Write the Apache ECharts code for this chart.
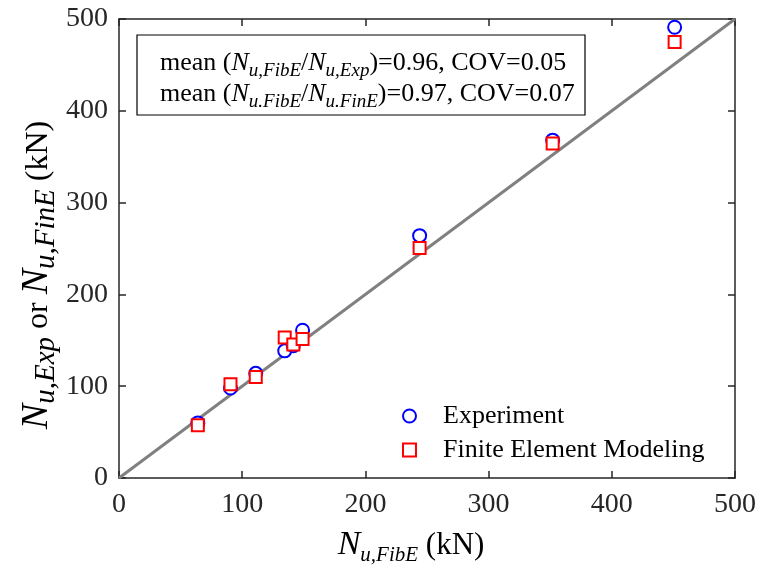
<!DOCTYPE html>
<html>
<head>
<meta charset="utf-8">
<script src="https://cdn.jsdelivr.net/npm/echarts@6/dist/echarts.min.js"></script>
<style>
  html, body { margin: 0; padding: 0; background: #fff; }
  #chart { width: 759px; height: 575px; }
</style>
</head>
<body>
<div id="chart"></div>
<script>
// Ultimate axial load: fibre-element prediction vs. test and FE results (kN)
const fibE       = [64, 90.5, 111, 134.5, 141.5, 149, 244, 352, 451];
const experiment = [60, 98, 114, 138.5, 144, 161, 264, 368, 491];
const finiteElem = [57.5, 102, 110, 153, 145.5, 151.5, 250.5, 364.5, 475];
const equalityLine = [[0, 0], [500, 500]];
const tickValues = [0, 100, 200, 300, 400, 500];

const SERIF = '"Liberation Serif", "Times New Roman", serif';
const AXIS_COLOR = '#262626';

const expPoints = fibE.map((x, i) => [x, experiment[i]]);
const fePoints  = fibE.map((x, i) => [x, finiteElem[i]]);

// rich-text styles: i = italic symbol, s = italic subscript, r = upright text;
// downward shifts are done with top padding (half the padding = shift)
function richSet(o) {
  return {
    r: { fontFamily: SERIF, fontSize: o.r, color: '#000', lineHeight: o.lh,
         padding: [o.rShift * 2, 0, 0, 0] },
    i: { fontFamily: SERIF, fontSize: o.i, fontStyle: 'italic', color: '#000', lineHeight: o.lh },
    s: { fontFamily: SERIF, fontSize: o.s, fontStyle: 'italic', color: '#000', lineHeight: o.lh,
         padding: [o.sShift * 2, 0, 0, 0] }
  };
}

const baseAxis = {
  type: 'value', min: 0, max: 500, interval: 100,
  axisLine: { show: true, onZero: false, lineStyle: { color: AXIS_COLOR, width: 1.5 } },
  axisTick: { show: true, inside: true, length: 7, lineStyle: { color: AXIS_COLOR, width: 1.5 } },
  splitLine: { show: false },
  axisLabel: { show: false }
};

const chart = echarts.init(document.getElementById('chart'), null, { renderer: 'canvas' });
chart.setOption({
  backgroundColor: '#fff',
  animation: false,
  grid: { left: 119, right: 23, top: 19, bottom: 97, containLabel: false },
  xAxis: [
    Object.assign({}, baseAxis, {
      position: 'bottom',
      axisLabel: { show: true, margin: 13, fontFamily: SERIF, fontSize: 28, color: AXIS_COLOR,
                   formatter: v => tickValues.includes(v) ? String(v) : '' }
    }),
    Object.assign({}, baseAxis, { position: 'top' })
  ],
  yAxis: [
    Object.assign({}, baseAxis, {
      position: 'left',
      axisLabel: { show: true, margin: 11, fontFamily: SERIF, fontSize: 28, color: AXIS_COLOR,
                   formatter: v => tickValues.includes(v) ? String(v) : '' }
    }),
    Object.assign({}, baseAxis, { position: 'right' })
  ],
  legend: {
    orient: 'vertical',
    left: 397, top: 398,
    itemWidth: 13, itemHeight: 13, itemGap: 8,
    textStyle: { fontFamily: SERIF, fontSize: 26, color: '#000', padding: [0, 0, 0, 22] },
    data: ['Experiment', 'Finite Element Modeling']
  },
  graphic: [
    {
      type: 'rect', shape: { x: 137, y: 35, width: 448, height: 80 },
      style: { fill: '#fff', stroke: '#000', lineWidth: 1.2 }, z: 10
    },
    {
      type: 'text', x: 160, y: 48, z: 11,
      style: {
        text: '{r|mean (}{i|N}{s|u,FibE}{r|/}{i|N}{s|u,Exp}{r|)=0.96, COV=0.05}\n' +
              '{r|mean (}{i|N}{s|u.FibE}{r|/}{i|N}{s|u.FinE}{r|)=0.97, COV=0.07}',
        rich: richSet({ i: 26, r: 26, s: 19, rShift: 0, sShift: 7, lh: 31 })
      }
    },
    {
      type: 'text', x: 411, y: 545, z: 11,
      style: {
        text: '{i|N}{s|u,FibE}{r| (kN)}',
        align: 'center', verticalAlign: 'middle',
        rich: richSet({ i: 34, r: 31, s: 21, rShift: 1, sShift: 10.5, lh: 50 })
      }
    },
    {
      type: 'text', x: 37, y: 275, rotation: Math.PI / 2, z: 11,
      style: {
        text: '{i|N}{s|u,Exp}{r| or }{i|N}{s|u,FinE}{r| (kN)}',
        align: 'center', verticalAlign: 'middle',
        rich: richSet({ i: 38, r: 32, s: 29, rShift: 2, sShift: 9, lh: 54 })
      }
    }
  ],
  series: [
    {
      type: 'line', name: 'equality', data: equalityLine,
      xAxisIndex: 0, yAxisIndex: 0,
      showSymbol: false, silent: true,
      lineStyle: { color: '#808080', width: 3 }, z: 2
    },
    {
      type: 'scatter', name: 'Experiment', data: expPoints,
      symbol: 'emptyCircle', symbolSize: 13,
      itemStyle: { color: '#0000ff', borderColor: '#0000ff', borderWidth: 1.8, opacity: 1 }, z: 3
    },
    {
      type: 'scatter', name: 'Finite Element Modeling', data: fePoints,
      symbol: 'emptyRect', symbolSize: 12,
      itemStyle: { color: '#ff0000', borderColor: '#ff0000', borderWidth: 1.8, opacity: 1 }, z: 4
    }
  ]
});
</script>
</body>
</html>
